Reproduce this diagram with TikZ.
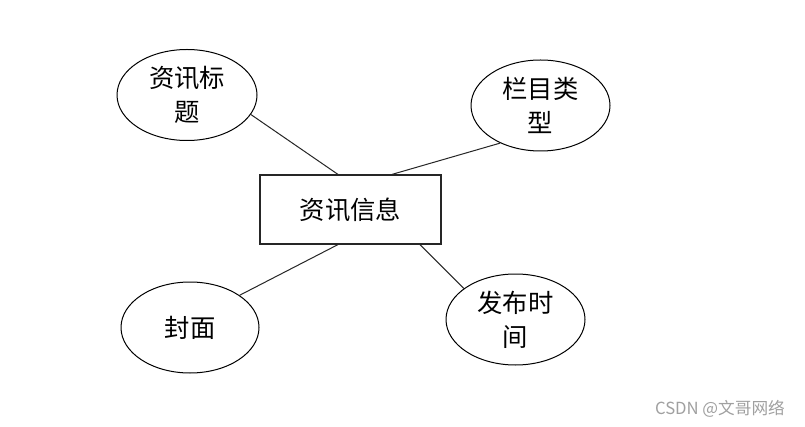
\documentclass[tikz,border=0pt]{standalone}
\usepackage{fontspec}
\usetikzlibrary{shapes.geometric}
\newfontfamily\cjk{Noto Sans CJK SC}
\definecolor{wmgray}{RGB}{160,160,160}
\tikzset{
  attr/.style={draw=black, line width=0.75pt, ellipse, inner sep=0pt, align=center,
    font=\cjk\fontsize{19}{25.5}\selectfont},
  entity/.style={draw=black!85, line width=0.9pt, rectangle, inner sep=0pt,
    minimum width=135.75pt, minimum height=51.75pt, font=\cjk\fontsize{19}{25.5}\selectfont},
  link/.style={draw=black!85, line width=0.75pt}
}
\begin{document}
\begin{tikzpicture}[x=0.75pt,y=-0.75pt]
\useasboundingbox[fill=white] (0,0) rectangle (805,427);
\node[entity] (r) at (350.5,209.5) {资讯信息};
\node[attr, minimum width=105pt, minimum height=68.25pt] (e1) at (187,95) {资讯标\\题};
\node[attr, minimum width=104.25pt, minimum height=68.25pt] (e2) at (540.5,105.5) {栏目类\\型};
\node[attr, minimum width=103.5pt, minimum height=68.25pt] (e3) at (190,327.5) {封面};
\node[attr, minimum width=104.25pt, minimum height=68.25pt] (e4) at (515.5,319.5) {发布时\\间};
\draw[link] (e1.-17.6) -- ([xshift=-9.4pt]r.north);
\draw[link] (e2.-137.2) -- ([xshift=31.1pt]r.north);
\draw[link] (e3.33) -- ([xshift=-9.4pt]r.south);
\draw[link] (e4.149.4) -- ([xshift=52.1pt]r.south);
\node[text=wmgray, font=\cjk\fontsize{12.5}{14}\selectfont, inner sep=0pt] (wm) at (720,409) {CSDN @文哥网络};
\end{tikzpicture}
\end{document}
